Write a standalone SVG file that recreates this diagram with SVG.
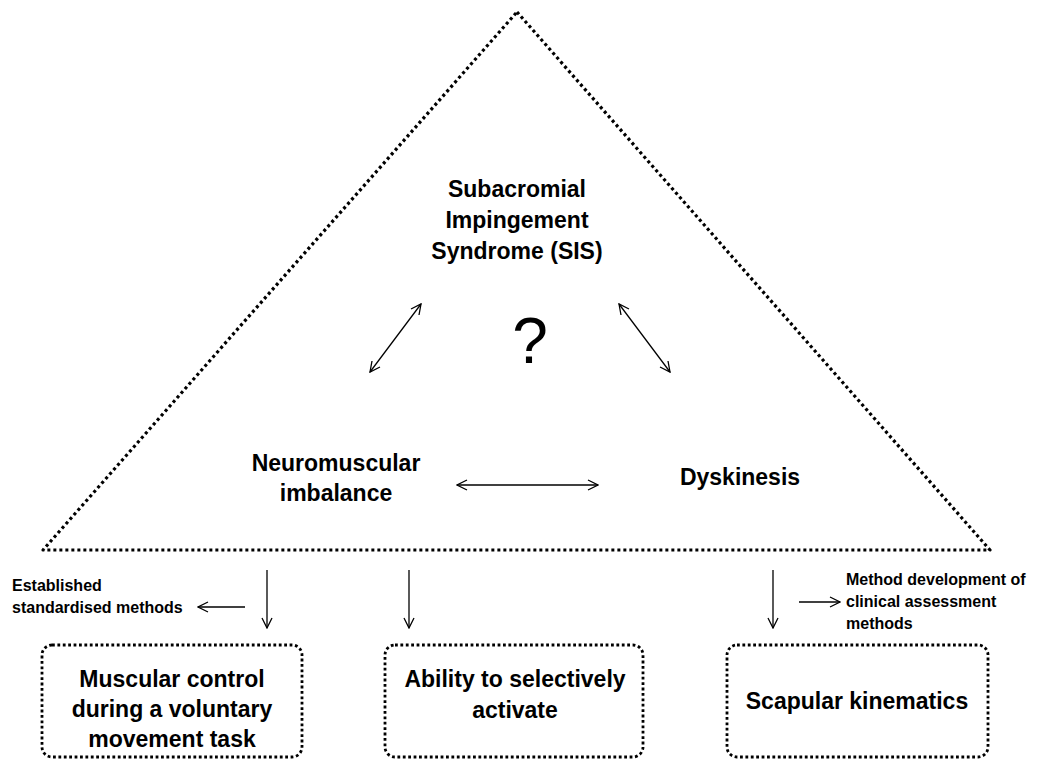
<svg xmlns="http://www.w3.org/2000/svg" width="1041" height="760" viewBox="0 0 1041 760">
<style>
.bg{fill:#fff}
.tri{fill:none;stroke:#000;stroke-width:3.2;stroke-dasharray:3 3;stroke-linejoin:round}
.box{fill:none;stroke:#000;stroke-width:2.8;stroke-dasharray:2.8 2.6}
.lbl{font-family:"Liberation Sans",Arial,sans-serif;font-weight:bold;font-size:23px;fill:#000;text-anchor:middle}
.sm{font-family:"Liberation Sans",Arial,sans-serif;font-weight:bold;font-size:16px;fill:#000}
.q{font-family:"Liberation Sans",Arial,sans-serif;font-size:64px;fill:#000;text-anchor:middle}
.ar{fill:none;stroke:#000;stroke-width:1.3}
</style>
<defs>
<marker id="ah" viewBox="0 0 12 12" refX="11" refY="6" markerWidth="12" markerHeight="12" markerUnits="userSpaceOnUse" orient="auto-start-reverse">
<path d="M1,1 L11,6 L1,11" fill="none" stroke="#000" stroke-width="1.3"/>
</marker>
</defs>
<rect class="bg" x="0" y="0" width="1041" height="760"/>
<g id="triangle">
<path class="tri" d="M517,12 L990,550 L43,550 Z"/>
</g>
<g id="sis">
<text class="lbl" x="517" y="197">Subacromial</text>
<text class="lbl" x="517" y="228">Impingement</text>
<text class="lbl" x="517" y="259">Syndrome (SIS)</text>
</g>
<g id="question">
<text class="q" x="530" y="363">?</text>
</g>
<g id="neuro">
<text class="lbl" x="336" y="471">Neuromuscular</text>
<text class="lbl" x="336" y="501">imbalance</text>
</g>
<g id="dysk">
<text class="lbl" x="740" y="485">Dyskinesis</text>
</g>
<g id="muscular">
<rect class="box" x="42" y="645" width="260" height="112" rx="10"/>
<text class="lbl" x="172" y="687">Muscular control</text>
<text class="lbl" x="172" y="717">during a voluntary</text>
<text class="lbl" x="172" y="747">movement task</text>
</g>
<g id="ability">
<rect class="box" x="385" y="645" width="258" height="112" rx="10"/>
<text class="lbl" x="515" y="687">Ability to selectively</text>
<text class="lbl" x="515" y="718">activate</text>
</g>
<g id="scapular">
<rect class="box" x="727" y="645" width="261" height="112" rx="10"/>
<text class="lbl" x="857" y="709">Scapular kinematics</text>
</g>
<g id="established">
<text class="sm" x="12" y="591">Established</text>
<text class="sm" x="12" y="613">standardised methods</text>
</g>
<g id="methoddev">
<text class="sm" x="846" y="585">Method development of</text>
<text class="sm" x="846" y="607">clinical assessment</text>
<text class="sm" x="846" y="629">methods</text>
</g>
<g id="connectors">
<line class="ar" x1="370" y1="372" x2="421" y2="304" marker-start="url(#ah)" marker-end="url(#ah)"/>
<line class="ar" x1="619" y1="304" x2="670" y2="372" marker-start="url(#ah)" marker-end="url(#ah)"/>
<line class="ar" x1="457" y1="485" x2="598" y2="485" marker-start="url(#ah)" marker-end="url(#ah)"/>
<line class="ar" x1="267" y1="570" x2="267" y2="628" marker-end="url(#ah)"/>
<line class="ar" x1="409" y1="570" x2="409" y2="628" marker-end="url(#ah)"/>
<line class="ar" x1="773" y1="570" x2="773" y2="628" marker-end="url(#ah)"/>
<line class="ar" x1="245" y1="607" x2="198" y2="607" marker-end="url(#ah)"/>
<line class="ar" x1="799" y1="602" x2="840" y2="602" marker-end="url(#ah)"/>
</g>
</svg>
